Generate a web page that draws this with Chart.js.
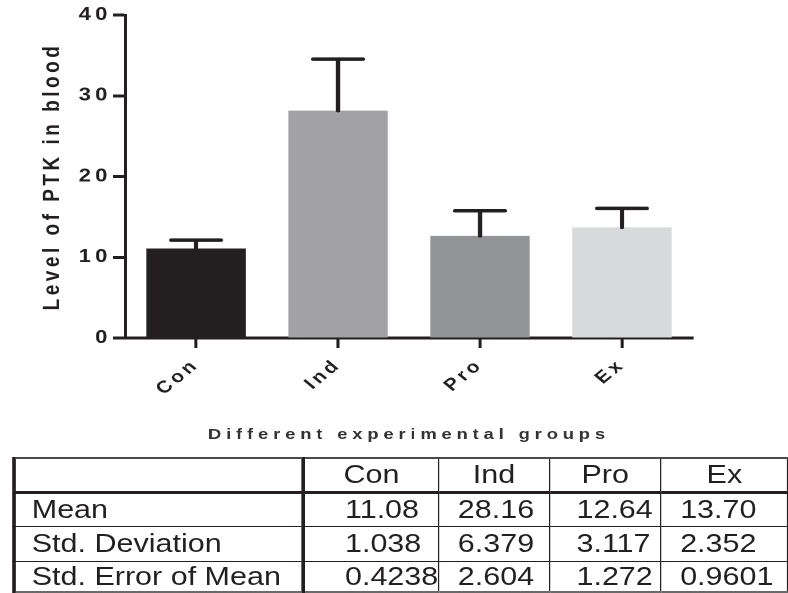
<!DOCTYPE html>
<html>
<head>
<meta charset="utf-8">
<script src="https://cdn.jsdelivr.net/npm/chart.js@4/dist/chart.umd.min.js"></script>
<style>
  html, body { margin: 0; padding: 0; background: #fff; overflow: hidden; width: 788px; height: 593px; }
  /* the whole figure is laid out narrow and widened by 1.22 horizontally */
  #stage { position: absolute; left: 0; top: 0; width: 646px; height: 593px;
           transform: scaleX(1.22); transform-origin: 0 0; }
  #plot { position: absolute; left: 0; top: 0; width: 646px; height: 452px; }
  table { position: absolute; left: 10px; top: 457px; border-collapse: collapse; table-layout: fixed;
          font-family: "Liberation Sans", Arial, sans-serif; font-size: 25px; color: #231f20;
          border-top: 2px solid #4a4a4a; border-left: 3px solid #231f20; border-bottom: 2px solid #6a6a6a; }
  td { padding: 0; line-height: 1; vertical-align: middle; white-space: nowrap;
       border-right: 1px solid #231f20; border-bottom: 1px solid #231f20; }
  td.lab { padding-left: 13px; border-right: 3px solid #231f20; }
  tr.head td { border-bottom: 3px solid #231f20; text-align: center; }
  tr:last-child td { border-bottom: 2px solid #6a6a6a; }
  td.c0 { padding-left: 33px; }
  td.c1 { padding-left: 15px; }
  td.c2 { padding-left: 22px; }
  td.c3 { padding-left: 15px; }
  tr.head td.c0, tr.head td.c1, tr.head td.c2, tr.head td.c3 { padding-left: 0; }
</style>
</head>
<body>
<div id="stage">
  <div id="plot"><canvas id="chart"></canvas></div>
  <table id="stats">
    <colgroup>
      <col style="width:242px"><col style="width:107px"><col style="width:94px"><col style="width:94px"><col style="width:107px">
    </colgroup>
    <tbody></tbody>
  </table>
</div>
<script>
// PTK level per experimental group: mean, standard deviation, standard error of mean
const groups   = ['Con', 'Ind', 'Pro', 'Ex'];
const means    = [11.08, 28.16, 12.64, 13.70];
const stdDev   = [1.038, 6.379, 3.117, 2.352];
const stdErr   = [0.4238, 2.604, 1.272, 0.9601];
const meanText = ['11.08', '28.16', '12.64', '13.70'];
const sdText   = ['1.038', '6.379', '3.117', '2.352'];
const semText  = ['0.4238', '2.604', '1.272', '0.9601'];
const rowNames = ['Mean', 'Std. Deviation', 'Std. Error of Mean'];
const yTicks   = [0, 10, 20, 30, 40];

const INK = '#231f20';
const barColors = ['#231f20', '#a2a1a6', '#939495', '#d9dadc'];
const FONT = '"Liberation Sans", Arial, sans-serif';

// summary table under the plot
const tbody = document.querySelector('#stats tbody');
function addRow(cls, first, cells, h) {
  const tr = document.createElement('tr');
  if (cls) tr.className = cls;
  tr.style.height = h + 'px';
  const td0 = document.createElement('td');
  td0.className = 'lab';
  td0.textContent = first;
  tr.appendChild(td0);
  cells.forEach((t, i) => {
    const td = document.createElement('td');
    td.className = 'c' + i;
    td.textContent = t;
    tr.appendChild(td);
  });
  tbody.appendChild(tr);
}
addRow('head', '', groups, 34);
addRow('', rowNames[0], meanText, 34);
addRow('', rowNames[1], sdText, 35);
addRow('', rowNames[2], semText, 31);

// upper error bars: mean -> mean + SD, with a cap half as wide as the bar
const errorBars = {
  id: 'errorBars',
  afterDatasetsDraw(chart) {
    const ctx = chart.ctx;
    const y = chart.scales.y;
    const meta = chart.getDatasetMeta(0);
    ctx.save();
    ctx.strokeStyle = INK;
    ctx.lineWidth = 3.5;
    ctx.lineCap = 'round';
    meta.data.forEach((bar, i) => {
      const base = y.getPixelForValue(means[i]);
      const top = y.getPixelForValue(means[i] + stdDev[i]);
      const half = bar.width / 4;
      ctx.beginPath();
      ctx.moveTo(bar.x, base);
      ctx.lineTo(bar.x, top);
      ctx.moveTo(bar.x - half, top);
      ctx.lineTo(bar.x + half, top);
      ctx.stroke();
    });
    ctx.restore();
  }
};

const chart = new Chart(document.getElementById('chart'), {
  type: 'bar',
  data: {
    labels: groups,
    datasets: [{
      data: means,
      backgroundColor: barColors,
      borderWidth: 0,
      categoryPercentage: 0.7,
      barPercentage: 1.0
    }]
  },
  options: {
    responsive: true,
    maintainAspectRatio: false,
    devicePixelRatio: 2,
    animation: false,
    layout: { padding: { top: 15, right: 78, left: 0, bottom: 0 } },
    plugins: { legend: { display: false }, tooltip: { enabled: false } },
    scales: {
      x: {
        afterFit(s) { s.height = 114; },
        grid: { display: true, drawOnChartArea: false, offset: false, tickLength: 10, tickWidth: 2.5, tickColor: INK },
        border: { display: true, color: INK, width: 3 },
        ticks: { color: INK, font: { family: FONT, size: 17, weight: 'bold' },
                 minRotation: 45, maxRotation: 45, padding: 7 },
        title: { display: true, text: 'Different experimental groups', color: '#333333',
                 font: { family: FONT, size: 15, weight: 'bold' }, padding: { top: 0, bottom: 8 } }
      },
      y: {
        min: 0, max: 40,
        afterFit(s) { s.width = 102.5; },
        afterBuildTicks(s) { s.ticks = yTicks.map(v => ({ value: v })); },
        grid: { display: true, drawOnChartArea: false, tickLength: 10, tickWidth: 3, tickColor: INK },
        border: { display: true, color: INK, width: 2.5 },
        ticks: { color: INK, font: { family: FONT, size: 18, weight: 'bold' }, padding: 1 },
        title: { display: true, text: 'Level of PTK in blood', color: INK,
                 font: { family: FONT, size: 19, weight: 'bold' }, padding: { top: 32, bottom: 0 } }
      }
    }
  },
  plugins: [errorBars]
});

// wide tracking on the axis texts, set per text group
function track(scale, method, spacing) {
  const orig = scale[method];
  scale[method] = function (...args) {
    const ctx = this.ctx;
    const prev = ctx.letterSpacing;
    ctx.letterSpacing = spacing;
    orig.apply(this, args);
    ctx.letterSpacing = prev;
  };
}
track(chart.scales.x, 'drawLabels', '3px');
track(chart.scales.x, 'drawTitle', '4px');
track(chart.scales.y, 'drawLabels', '3.5px');
track(chart.scales.y, 'drawTitle', '3.5px');
chart.draw();
</script>
</body>
</html>
